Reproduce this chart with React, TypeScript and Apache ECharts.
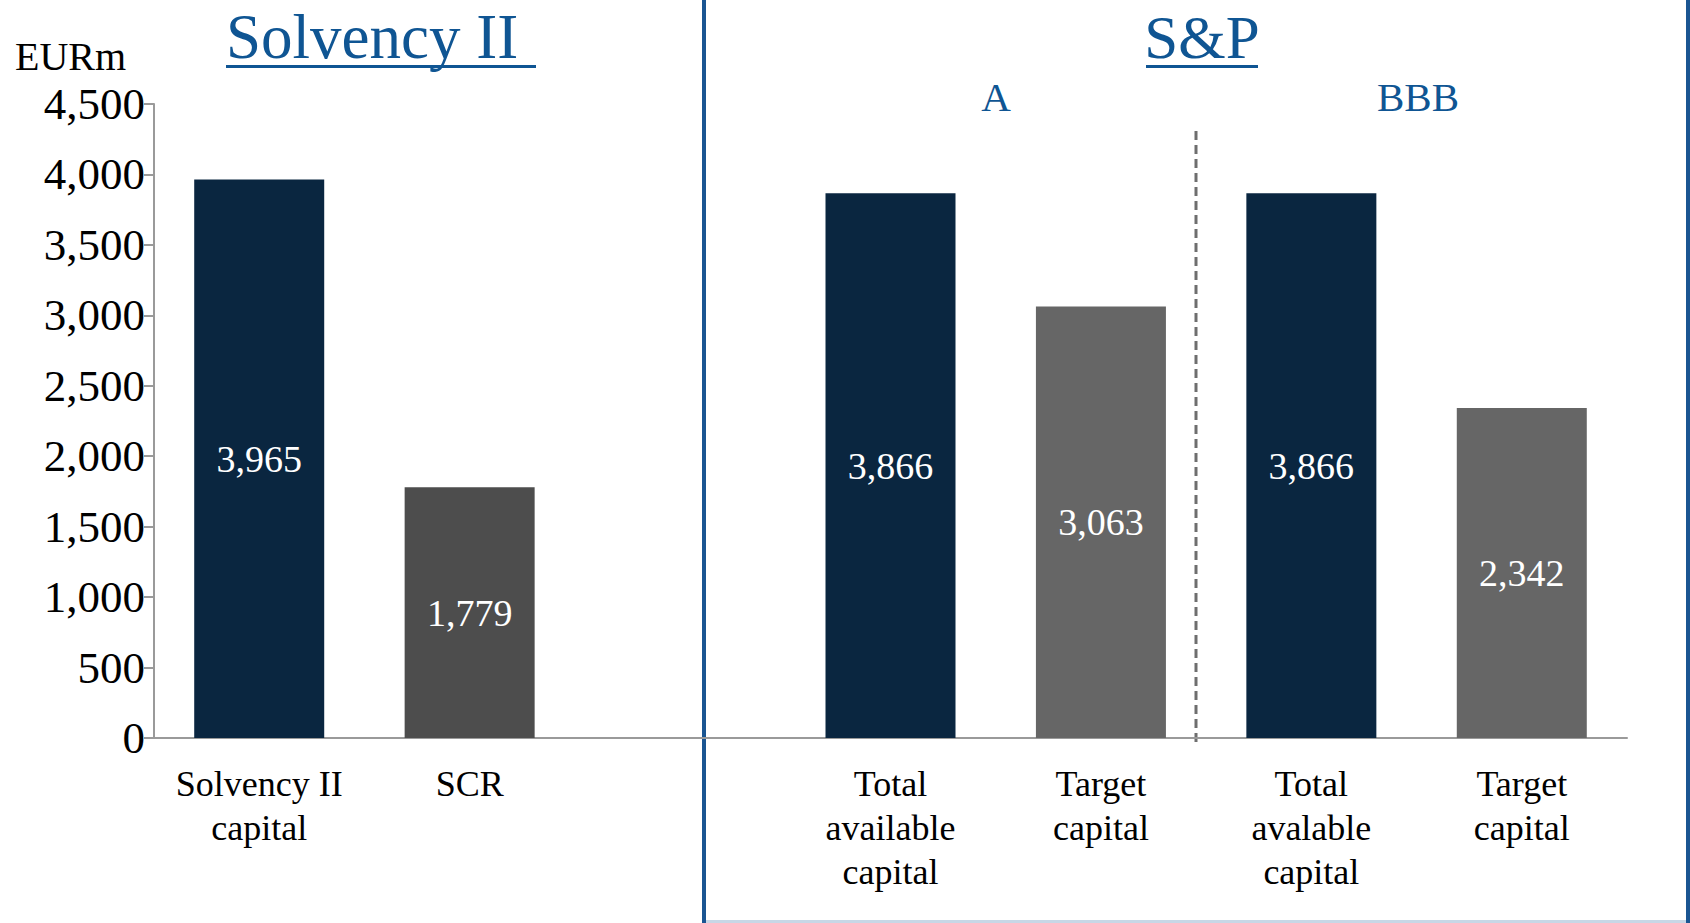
import React, { useEffect, useRef } from "react";
import * as echarts from "echarts";

const categories = [
  "Solvency II\ncapital",
  "SCR",
  "",
  "Total\navailable\ncapital",
  "Target\ncapital",
  "Total\navalable\ncapital",
  "Target\ncapital",
];
const values: (number | null)[] = [3965, 1779, null, 3866, 3063, 3866, 2342];
const barColors = ["#0A2640", "#4D4D4D", "#FFFFFF", "#0A2640", "#666666", "#0A2640", "#666666"];
const yTicks = { min: 0, max: 4500, interval: 500 };
const unitLabel = "EURm";
const leftTitle = "Solvency II";
const rightTitle = "S&P";
const ratingLabels = ["A", "BBB"];

const FONT = "'Liberation Serif', 'DejaVu Serif', serif";
const BLUE = "#0F5593";

export default function App() {
  const ref = useRef<HTMLDivElement>(null);
  useEffect(() => {
    document.body.style.margin = "0";
    const chart = echarts.init(ref.current!, null, { renderer: "svg" });
    const fmt = (v: number) => v.toLocaleString("en-US");
    chart.setOption({
      animation: false,
      backgroundColor: "#ffffff",
      grid: { left: 154, right: 63, top: 104, bottom: 185, containLabel: false },
      xAxis: {
        type: "category",
        data: categories,
        axisLine: { show: true, lineStyle: { color: "#9A9A9A", width: 2 } },
        axisTick: { show: false },
        axisLabel: {
          interval: 0,
          margin: 24,
          color: "#000",
          fontFamily: FONT,
          fontSize: 36,
          lineHeight: 44,
        },
      },
      yAxis: {
        type: "value",
        min: yTicks.min,
        max: yTicks.max,
        interval: yTicks.interval,
        splitLine: { show: false },
        axisLine: { show: true, lineStyle: { color: "#9A9A9A", width: 2 } },
        axisTick: { show: true, inside: false, length: 10, lineStyle: { color: "#9A9A9A", width: 2 } },
        axisLabel: {
          margin: 9,
          color: "#000",
          fontFamily: FONT,
          fontSize: 45,
          formatter: (v: number) => fmt(v),
        },
      },
      series: [
        {
          type: "bar",
          barWidth: 130,
          data: values.map((v, i) => ({ value: v, itemStyle: { color: barColors[i] } })),
          label: {
            show: true,
            position: "inside",
            color: "#fff",
            fontFamily: FONT,
            fontSize: 38,
            formatter: (p: any) => (p.value == null ? "" : fmt(p.value)),
          },
        },
      ],
      graphic: [
        { type: "text", left: 15, top: 36, style: { text: unitLabel, font: `40px ${FONT}`, fill: "#000" } },
        { type: "text", x: 226, y: 37, style: { text: leftTitle, font: `63px ${FONT}`, fill: BLUE, textAlign: "left", textVerticalAlign: "middle" } },
        { type: "rect", shape: { x: 226, y: 65, width: 310, height: 3 }, style: { fill: BLUE } },
        { type: "text", x: 1202, y: 37, style: { text: rightTitle, font: `61px ${FONT}`, fill: BLUE, textAlign: "center", textVerticalAlign: "middle" } },
        { type: "rect", shape: { x: 1146, y: 65, width: 112, height: 3 }, style: { fill: BLUE } },
        { type: "text", x: 996, y: 97, style: { text: ratingLabels[0], font: `41px ${FONT}`, fill: BLUE, textAlign: "center", textVerticalAlign: "middle" } },
        { type: "text", x: 1418, y: 97, style: { text: ratingLabels[1], font: `41px ${FONT}`, fill: BLUE, textAlign: "center", textVerticalAlign: "middle" } },
        { type: "rect", shape: { x: 702, y: 0, width: 4, height: 923 }, style: { fill: "#1A5592" } },
        { type: "rect", shape: { x: 1686, y: 0, width: 4, height: 923 }, style: { fill: "#1A5592" } },
        { type: "rect", shape: { x: 706, y: 920, width: 980, height: 3 }, style: { fill: "#C8D7E6" } },
        { type: "line", shape: { x1: 1196, y1: 131, x2: 1196, y2: 744 }, style: { stroke: "#6E6E6E", lineWidth: 3, lineDash: [9, 5] } },
      ],
    });
    return () => chart.dispose();
  }, []);
  return <div ref={ref} style={{ width: 1690, height: 923 }} />;
}
